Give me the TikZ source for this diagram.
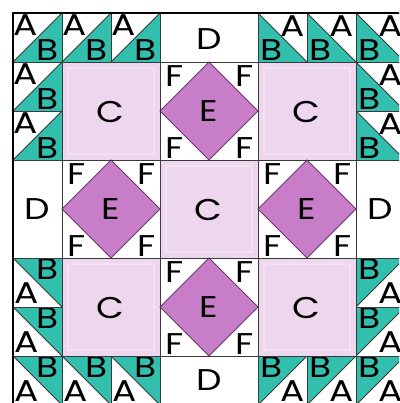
\documentclass[tikz,border=0pt]{standalone}
\usepackage{fontspec}
\newfontfamily\qfont[FakeStretch=1.2]{Poppins}
\definecolor{hstteal}{HTML}{33BFAE}
\definecolor{cpink}{HTML}{EED6EE}
\definecolor{cpinkin}{HTML}{F3E2F3}
\definecolor{epurple}{HTML}{C77DC8}
\definecolor{eline}{HTML}{6A3A6C}
\definecolor{gridc}{HTML}{3A3A3A}
\tikzset{
  lbl/.style={font=\qfont\fontsize{30}{30}\selectfont, inner sep=0pt, text depth=0pt, anchor=center},
  gridline/.style={draw=gridc, line width=0.8pt},
  tealpatch/.style={fill=hstteal},
  cblock/.style={fill=cpink},
  eblock/.style={fill=epurple, draw=eline, line width=0.8pt},
}
\begin{document}
\begin{tikzpicture}[x=1pt,y=-1pt]
\useasboundingbox (0,0) rectangle (399,403);
\clip (0,0) rectangle (399,403);
\fill[white] (0,0) rectangle (399,403);
\def\u{49}
% ---------- HST type 1: A top-left, B bottom-right (teal)
\foreach \c/\r in {0/0,1/0,2/0,0/1,0/2}{
  \fill[tealpatch] (13+\u*\c,13+\u*\r+\u) -- (13+\u*\c+\u,13+\u*\r+\u) -- (13+\u*\c+\u,13+\u*\r) -- cycle;
  \draw[gridline] (13+\u*\c,13+\u*\r+\u) -- (13+\u*\c+\u,13+\u*\r);
  \node[lbl] (a1-\c-\r) at (13+\u*\c+13,13+\u*\r+12.5) {A};
  \node[lbl] (b1-\c-\r) at (13+\u*\c+35,13+\u*\r+37.5) {B};
}
% ---------- HST type 2: B bottom-left (teal), A top-right
\foreach \c/\r in {5/0,6/0,7/0,7/1,7/2}{
  \fill[tealpatch] (13+\u*\c,13+\u*\r) -- (13+\u*\c,13+\u*\r+\u) -- (13+\u*\c+\u,13+\u*\r+\u) -- cycle;
  \draw[gridline] (13+\u*\c,13+\u*\r) -- (13+\u*\c+\u,13+\u*\r+\u);
  \node[lbl] (a2-\c-\r) at (13+\u*\c+35,13+\u*\r+13) {A};
  \node[lbl] (b2-\c-\r) at (13+\u*\c+14,13+\u*\r+37.5) {B};
}
% ---------- HST type 3: B top-right (teal), A bottom-left
\foreach \c/\r in {0/5,0/6,0/7,1/7,2/7}{
  \fill[tealpatch] (13+\u*\c,13+\u*\r) -- (13+\u*\c+\u,13+\u*\r) -- (13+\u*\c+\u,13+\u*\r+\u) -- cycle;
  \draw[gridline] (13+\u*\c,13+\u*\r) -- (13+\u*\c+\u,13+\u*\r+\u);
  \node[lbl] (b3-\c-\r) at (13+\u*\c+35,13+\u*\r+11) {B};
  \node[lbl] (a3-\c-\r) at (13+\u*\c+14,13+\u*\r+35.5) {A};
}
% ---------- HST type 4: B top-left (teal), A bottom-right
\foreach \c/\r in {7/5,7/6,5/7,6/7,7/7}{
  \fill[tealpatch] (13+\u*\c,13+\u*\r) -- (13+\u*\c+\u,13+\u*\r) -- (13+\u*\c,13+\u*\r+\u) -- cycle;
  \draw[gridline] (13+\u*\c,13+\u*\r+\u) -- (13+\u*\c+\u,13+\u*\r);
  \node[lbl] (b4-\c-\r) at (13+\u*\c+14,13+\u*\r+11) {B};
  \node[lbl] (a4-\c-\r) at (13+\u*\c+35,13+\u*\r+35.5) {A};
}
% HST cell borders
\foreach \c/\r in {0/0,1/0,2/0,0/1,0/2,5/0,6/0,7/0,7/1,7/2,0/5,0/6,0/7,1/7,2/7,7/5,7/6,5/7,6/7,7/7}{
  \draw[gridline] (13+\u*\c,13+\u*\r) rectangle (13+\u*\c+\u,13+\u*\r+\u);
}
% ---------- C blocks
\foreach \c/\r in {1/1,5/1,3/3,1/5,5/5}{
  \fill[cblock] (13+\u*\c,13+\u*\r) rectangle (13+\u*\c+2*\u,13+\u*\r+2*\u);
  \draw[cpinkin, line width=1.5pt] (13+\u*\c+6,13+\u*\r+6) rectangle (13+\u*\c+2*\u-6,13+\u*\r+2*\u-6);
  \draw[gridline] (13+\u*\c,13+\u*\r) rectangle (13+\u*\c+2*\u,13+\u*\r+2*\u);
  \node[lbl] (c-\c-\r) at (13+\u*\c+\u-1,13+\u*\r+\u+1) {C};
}
% ---------- E blocks (diamond with F corners)
\foreach \c/\r in {3/1,1/3,5/3,3/5}{
  \draw[eblock] (13+\u*\c+\u,13+\u*\r) -- (13+\u*\c+2*\u,13+\u*\r+\u) -- (13+\u*\c+\u,13+\u*\r+2*\u) -- (13+\u*\c,13+\u*\r+\u) -- cycle;
  \draw[gridline] (13+\u*\c,13+\u*\r) rectangle (13+\u*\c+2*\u,13+\u*\r+2*\u);
  \node[lbl] (e-\c-\r) at (13+\u*\c+\u,13+\u*\r+\u) {E};
  \node[lbl] (ftl-\c-\r) at (13+\u*\c+14.5,13+\u*\r+14.5) {F};
  \node[lbl] (ftr-\c-\r) at (13+\u*\c+2*\u-13.5,13+\u*\r+14.5) {F};
  \node[lbl] (fbl-\c-\r) at (13+\u*\c+14.5,13+\u*\r+2*\u-11.5) {F};
  \node[lbl] (fbr-\c-\r) at (13+\u*\c+2*\u-13.5,13+\u*\r+2*\u-11.5) {F};
}
% ---------- D blocks
\draw[gridline] (13+\u*3,13) rectangle (13+\u*5,13+\u);
\node[lbl] (dtop) at (13+\u*4,13+\u/2+2) {D};
\draw[gridline] (13,13+\u*3) rectangle (13+\u,13+\u*5);
\node[lbl] (dleft) at (13+\u/2,13+\u*4) {D};
\draw[gridline] (13+\u*7,13+\u*3) rectangle (13+\u*8,13+\u*5);
\node[lbl] (dright) at (13+\u*7+\u/2,13+\u*4) {D};
\draw[gridline] (13+\u*3,13+\u*7) rectangle (13+\u*5,13+\u*8);
\node[lbl] (dbottom) at (13+\u*4,13+\u*7+\u/2) {D};
% ---------- outer border
\draw[black, line width=1.8pt] (13,13) rectangle (13+8*\u,13+8*\u);
\end{tikzpicture}
\end{document}
